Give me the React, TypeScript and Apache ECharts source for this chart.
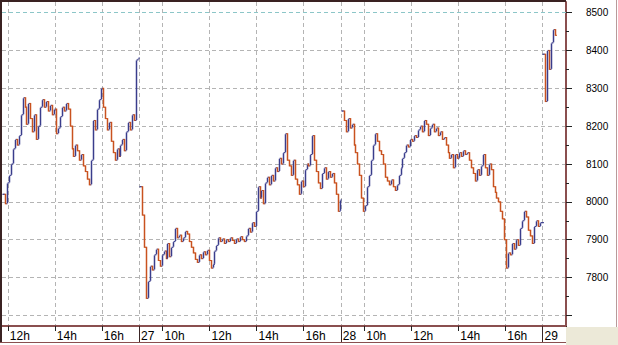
import React, { useEffect, useRef } from 'react';
import * as echarts from 'echarts';

// Trading sessions shown on the time axis (5-minute slots)
const SESSION_DAYS = [26, 27, 28, 29];
const SESSION_START = ['11:45', '09:00', '09:00', '09:00'];
const SESSION_SLOTS = [70, 103, 103, 12];
const SLOT_MINUTES = 5;
const HOUR_LABELS = [10, 12, 14, 16];

// 5-minute closing levels
const DAY26 = [
  8020, 7995, 8050, 8070, 8100, 8140, 8165, 8150, 8175, 8230,
  8275, 8250, 8205, 8260, 8220, 8185, 8230, 8165, 8200, 8250,
  8270, 8250, 8265, 8240, 8255, 8230, 8245, 8180, 8195, 8225,
  8250, 8240, 8260, 8245, 8200, 8140, 8120, 8150, 8135, 8110,
  8125, 8095, 8080, 8060, 8045, 8110, 8215, 8190, 8245, 8270,
  8300, 8250, 8220, 8190, 8210, 8160, 8130, 8110, 8140, 8120,
  8150, 8165, 8135, 8185, 8210, 8190, 8230, 8215, 8375, 8380,
];
const DAY27 = [
  8040, 7965, 7880, 7745, 7790, 7830, 7820, 7860, 7875, 7845,
  7830, 7860, 7870, 7850, 7890, 7855, 7880, 7895, 7930, 7905,
  7912, 7895, 7905, 7922, 7915, 7895, 7880, 7865, 7848, 7840,
  7860, 7850, 7868, 7860, 7872, 7845, 7825, 7835, 7870, 7885,
  7905, 7895, 7902, 7890, 7900, 7895, 7905, 7898, 7890, 7902,
  7895, 7908, 7900, 7895, 7910, 7930, 7920, 7945, 7935, 7975,
  8040, 8010, 8030, 7995, 8050, 8065, 8045, 8070, 8055, 8090,
  8080, 8115, 8100, 8130, 8180, 8110, 8095, 8070, 8110, 8060,
  8045, 8020, 8055, 8040, 8085, 8100, 8095, 8125, 8175, 8110,
  8080, 8050, 8035, 8075, 8090, 8060, 8080, 8065, 8075, 8050,
  8020, 7975, 8005,
];
const DAY28 = [
  8240, 8215, 8185, 8220, 8195, 8205, 8150, 8130, 8100, 8070,
  8010, 7975, 7990, 8040, 8070, 8110, 8150, 8180, 8160, 8135,
  8125, 8100, 8065, 8055, 8045, 8058, 8040, 8030, 8045, 8070,
  8090, 8115, 8130, 8150, 8145, 8165, 8160, 8175, 8170, 8190,
  8200, 8185, 8215, 8205, 8175, 8195, 8205, 8185, 8195, 8175,
  8185, 8165, 8170, 8150, 8130, 8115, 8125, 8090, 8125, 8115,
  8130, 8120, 8135, 8125, 8130, 8110, 8090, 8075, 8055, 8085,
  8070, 8095, 8125, 8090, 8070, 8100, 8085, 8040, 8025, 8010,
  8000, 7975, 7955, 7900, 7825, 7865, 7860, 7890, 7875, 7900,
  7885, 7930, 7950, 7975, 7960, 7925, 7910, 7890, 7935, 7950,
  7935, 7945, 7945,
];
const DAY29 = [8390, 8265, 8400, 8350, 8420, 8455, 8440];

const Y_MIN = 7672;
const Y_MAX = 8528;
const Y_GRID = [7700, 7800, 7900, 8000, 8100, 8200, 8300, 8400, 8500];
const Y_LABELS = [7800, 7900, 8000, 8100, 8200, 8300, 8400, 8500];
const Y_MINOR = [7700, 7750, 7800, 7850, 7900, 7950, 8000, 8050, 8100, 8150, 8200, 8250, 8300, 8350, 8400, 8450, 8500];
const TOP_LINE = 8500;

const UP = '#3a3d8c';
const DOWN = '#c9521f';
const FRAME = '#8a4f4f';
const FONT = 'Liberation Sans, Arial, sans-serif';

export default function App() {
  const ref = useRef<HTMLDivElement>(null);

  useEffect(() => {
    if (!ref.current) return;
    const chart = echarts.init(ref.current, null, { renderer: 'svg' });

    const closesByDay = [DAY26, DAY27, DAY28, DAY29];
    const categories: string[] = [];
    const bars: number[][] = [];
    const isHour: boolean[] = [];
    const isDayStart: boolean[] = [];
    const labelText: string[] = [];

    SESSION_DAYS.forEach((day, s) => {
      const [hh, mm] = SESSION_START[s].split(':').map(Number);
      const start = hh * 60 + mm;
      const closes = closesByDay[s];
      for (let k = 0; k < SESSION_SLOTS[s]; k++) {
        const t = start + k * SLOT_MINUTES;
        const h = Math.floor(t / 60);
        const m = t % 60;
        const idx = categories.length;
        categories.push(`${day} ${String(h).padStart(2, '0')}:${String(m).padStart(2, '0')}`);
        const dayStart = k === 0 && s > 0;
        const hour = !dayStart && m === 0 && HOUR_LABELS.includes(h);
        isDayStart.push(dayStart);
        isHour.push(hour);
        labelText.push(dayStart ? String(day) : hour ? `${h}h` : '');
        if (k < closes.length) {
          const c = closes[k];
          const o = k > 0 ? closes[k - 1] : c;
          bars.push([idx, o, c]);
        }
      }
    });

    const option: any = {
      animation: false,
      backgroundColor: '#ffffff',
      grid: { left: 2, right: 52, top: 2, bottom: 19, containLabel: false },
      xAxis: [
        {
          type: 'category',
          data: categories,
          boundaryGap: true,
          position: 'bottom',
          axisLine: { show: true, lineStyle: { color: FRAME, width: 2 } },
          axisTick: {
            show: true,
            interval: (i: number) => isHour[i],
            length: 5,
            lineStyle: { color: '#222', width: 1 },
          },
          axisLabel: {
            show: true,
            interval: (i: number) => isHour[i] || isDayStart[i],
            formatter: (_v: string, i: number) => labelText[i],
            align: 'left',
            padding: [0, 0, 0, 1],
            margin: 4,
            fontSize: 12,
            color: '#000',
            fontFamily: FONT,
          },
          splitLine: {
            show: true,
            interval: (i: number) => isHour[i] || isDayStart[i],
            lineStyle: { color: '#b4b4b4', type: [4, 3], width: 1 },
          },
        },
        {
          type: 'category',
          data: categories,
          boundaryGap: true,
          position: 'bottom',
          axisLine: { show: false },
          axisTick: {
            show: true,
            interval: (i: number) => isDayStart[i],
            length: 16,
            lineStyle: { color: '#3a2525', width: 1 },
          },
          axisLabel: { show: false },
          splitLine: { show: false },
        },
      ],
      yAxis: [
        {
          type: 'value',
          position: 'right',
          min: Y_MIN,
          max: Y_MAX,
          axisLine: { show: true, lineStyle: { color: FRAME, width: 2 } },
          axisTick: { show: true, customValues: Y_GRID, length: 6, lineStyle: { color: '#222' } },
          axisLabel: {
            show: true,
            customValues: Y_LABELS,
            formatter: (v: number) => String(v),
            margin: 20,
            fontSize: 10,
            color: '#000',
            fontFamily: FONT,
            align: 'left',
          },
          splitLine: { show: true, lineStyle: { color: '#b4b4b4', type: [4, 3], width: 1 } },
        },
        {
          type: 'value',
          position: 'right',
          min: Y_MIN,
          max: Y_MAX,
          axisLine: { show: false },
          axisTick: { show: true, customValues: Y_MINOR, length: 3, lineStyle: { color: '#222' } },
          axisLabel: { show: false },
          splitLine: { show: false },
        },
      ],
      series: [
        {
          type: 'custom',
          xAxisIndex: 0,
          yAxisIndex: 0,
          data: bars,
          encode: { x: 0, y: [1, 2] },
          clip: true,
          renderItem: (_params: any, api: any) => {
            const i = api.value(0);
            const o = api.value(1);
            const c = api.value(2);
            const pO = api.coord([i, o]);
            const pC = api.coord([i, c]);
            const x = Math.round(pO[0]) + 0.5;
            const color = c >= o ? UP : DOWN;
            return {
              type: 'group',
              children: [
                {
                  type: 'line',
                  shape: { x1: x, y1: pO[1] - 0.5, x2: x, y2: pC[1] + 0.5 },
                  style: { stroke: color, lineWidth: 1.5 },
                },
                {
                  type: 'line',
                  shape: { x1: x - 1, y1: pO[1], x2: x, y2: pO[1] },
                  style: { stroke: color, lineWidth: 1 },
                },
                {
                  type: 'line',
                  shape: { x1: x, y1: pC[1], x2: x + 1.5, y2: pC[1] },
                  style: { stroke: color, lineWidth: 1 },
                },
              ],
            };
          },
          markLine: {
            silent: true,
            symbol: 'none',
            label: { show: false },
            lineStyle: { color: '#8cc6c8', type: [4, 3], width: 1 },
            data: [{ yAxis: TOP_LINE }],
          },
        },
      ],
      graphic: [
        { type: 'rect', shape: { x: 0, y: 0, width: 566, height: 2 }, style: { fill: '#3a2222' }, z: 100 },
        { type: 'rect', shape: { x: 0, y: 0, width: 2, height: 343 }, style: { fill: '#3a2222' }, z: 100 },
        { type: 'rect', shape: { x: 0, y: 342, width: 566, height: 1 }, style: { fill: FRAME }, z: 100 },
        { type: 'rect', shape: { x: 566, y: 327, width: 52, height: 18 }, style: { fill: '#ece9d8' }, z: 100 },
        { type: 'rect', shape: { x: 616, y: 0, width: 1, height: 327 }, style: { fill: '#b89a9a' }, z: 100 },
      ],
    };

    chart.setOption(option);
    return () => chart.dispose();
  }, []);

  return (
    <div
      ref={ref}
      style={{ position: 'absolute', left: 0, top: 0, width: 618, height: 345 }}
    />
  );
}
